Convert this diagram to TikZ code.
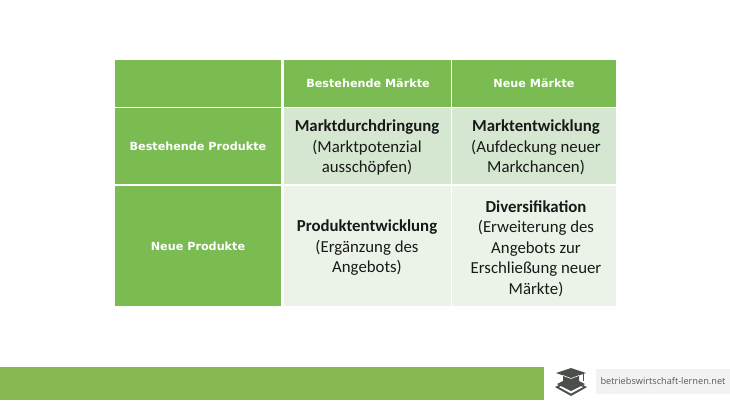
\documentclass[tikz,border=0pt]{standalone}
\usepackage{fontspec}
\setmainfont{Carlito}
\newfontfamily\headfont{DejaVu Sans}
\newfontfamily\sitefont{Open Sans}
\definecolor{headgreen}{HTML}{7ABB52}
\definecolor{bargreen}{HTML}{86B954}
\definecolor{celldark}{HTML}{D6E7D1}
\definecolor{celllight}{HTML}{EBF3E8}
\definecolor{iconink}{HTML}{4A4F4C}
\tikzstyle{head}=[fill=headgreen, draw=none, inner sep=0pt, text=white, align=center, font=\headfont\bfseries\fontsize{11.2}{14}\selectfont]
\tikzstyle{cell}=[draw=none, inner sep=0pt, text=black!90, align=center, font=\fontsize{16.8}{20.4}\selectfont]
\newcommand{\cellhead}[1]{\rule{0pt}{15pt}\textbf{#1}}

\begin{document}
\begin{tikzpicture}[x=1pt,y=-1pt]
\useasboundingbox (0,0) rectangle (730,400);
% header row
\node[head, minimum width=166pt, minimum height=47pt] (corner) at (198,83) {};
\node[head, minimum width=167pt, minimum height=47pt] (oldmarket) at (367,83) {\hspace{2pt}Bestehende Märkte};
\node[head, minimum width=164pt, minimum height=47pt] (newmarket) at (534,83) {Neue Märkte};
% row labels
\node[head, minimum width=166pt, minimum height=76pt] (oldproduct) at (198,146) {Bestehende Produkte};
\node[head, minimum width=166pt, minimum height=120pt] (newproduct) at (198,246) {Neue Produkte};
% strategies
\fill[celldark] (452,108) rectangle (616,184);
\fill[celllight] (452,186) rectangle (616,306);
\node[cell, fill=celldark, minimum width=167pt, minimum height=76pt] (penetration) at (367,146) {\cellhead{Marktdurchdringung}\\(Marktpotenzial\\ausschöpfen)};
\node[cell, minimum height=76pt] (development) at (536,146) {\cellhead{Marktentwicklung}\\(Aufdeckung neuer\\Markchancen)};
\node[cell, fill=celllight, minimum width=167pt, minimum height=120pt] (product) at (367,246) {\cellhead{Produktentwicklung}\\(Ergänzung des\\Angebots)};
\node[cell, minimum height=120pt] (diversify) at (536,247) {\cellhead{Diversifikation}\\(Erweiterung des\\Angebots zur\\Erschließung neuer\\Märkte)};
% footer
\fill[bargreen] (0,367) rectangle (544,400);
\node[fill=black!5, inner sep=0pt, minimum width=134pt, minimum height=25pt, text=black!65, font=\sitefont\fontsize{9.2}{12}\selectfont] (site) at (663,381.5) {betriebswirtschaft-lernen.net};
% logo
\fill[iconink] (555,387) -- (571,379) -- (587,387) -- (571,396) -- cycle;
\fill[white] (559,387) -- (571,382) -- (583,387) -- (571,393.5) -- cycle;
\fill[iconink] (557,384) -- (571,377) -- (585,384) -- (571,391) -- cycle;
\fill[iconink] (563,375) -- (579,375) -- (579,384) -- (571,387) -- (563,384) -- cycle;
\fill[iconink] (556,373) -- (571,368) -- (586,373) -- (571,378) -- cycle;
\draw[white, line width=.6pt] (563,375.5) -- (571,378.5) -- (579,375.5);
\draw[iconink, line width=.8pt] (583,374) -- (583,381);
\end{tikzpicture}
\end{document}
